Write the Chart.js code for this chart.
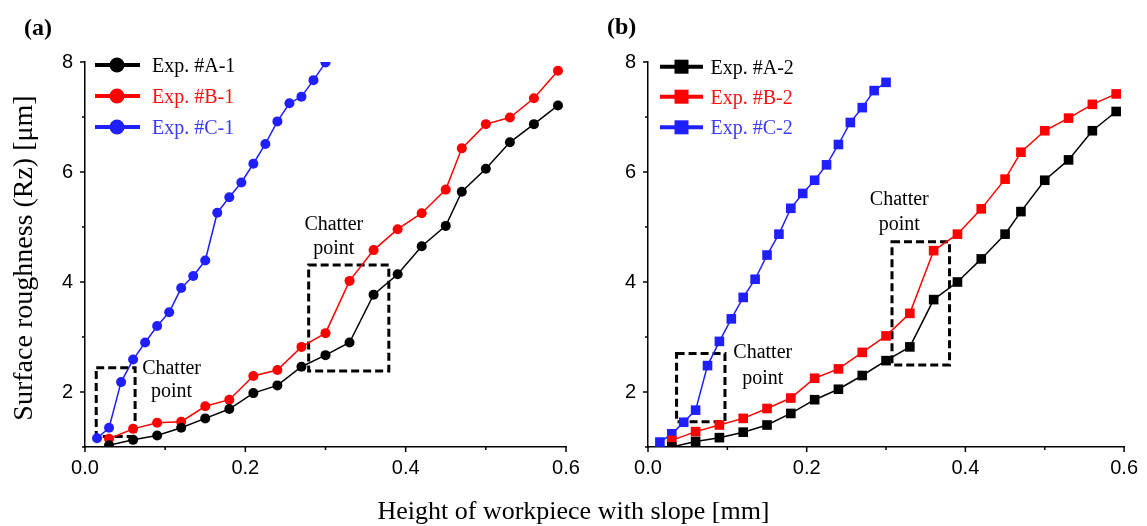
<!DOCTYPE html>
<html><head><meta charset="utf-8">
<script src="https://cdn.jsdelivr.net/npm/chart.js@4/dist/chart.umd.min.js"></script>
<style>
html,body{margin:0;padding:0;background:#fff;}
#wrap{position:relative;width:1147px;height:526px;overflow:hidden;background:#fff;}
.cv{position:absolute;top:0;}
.lbl{position:absolute;font-family:'Liberation Serif','Times New Roman',serif;color:#000;white-space:nowrap;line-height:1;}
</style></head><body>
<div id="wrap">
  <canvas id="ca" class="cv" width="600" height="526" style="left:0"></canvas>
  <canvas id="cb" class="cv" width="567" height="526" style="left:580px"></canvas>
  <div class="lbl" style="left:24px;top:15px;font-size:24px;font-weight:bold">(a)</div>
  <div class="lbl" style="left:607px;top:14px;font-size:24px;font-weight:bold">(b)</div>
  <div class="lbl" style="left:0;width:1147px;text-align:center;top:498px;font-size:26px">Height of workpiece with slope [mm]</div>
  <div class="lbl" style="left:23px;top:258px;font-size:28px;transform:translate(-50%,-50%) rotate(-90deg)">Surface roughness (Rz) [μm]</div>
</div>
<script>
// ---- data ----
const xAB = [0.03,0.06,0.09,0.12,0.15,0.18,0.21,0.24,0.27,0.30,0.33,0.36,0.39,0.42,0.45,0.47,0.50,0.53,0.56,0.59];
const xC  = [0.015,0.03,0.045,0.06,0.075,0.09,0.105,0.12,0.135,0.15,0.165,0.18,0.195,0.21,0.225,0.24,0.255,0.27,0.285,0.30];

const expA1 = [1.03,1.13,1.21,1.35,1.52,1.69,1.98,2.12,2.46,2.67,2.90,3.77,4.14,4.65,5.02,5.64,6.06,6.54,6.87,7.21];
const expB1 = [1.15,1.33,1.44,1.46,1.74,1.86,2.29,2.40,2.82,3.07,4.02,4.58,4.96,5.25,5.68,6.43,6.87,6.99,7.34,7.84];
const expC1 = [1.16,1.35,2.18,2.59,2.90,3.20,3.45,3.89,4.11,4.39,5.26,5.54,5.81,6.15,6.51,6.92,7.25,7.37,7.67,7.99];

const expA2 = [1.00,1.10,1.17,1.27,1.40,1.61,1.86,2.05,2.30,2.57,2.82,3.68,4.00,4.42,4.87,5.28,5.85,6.22,6.75,7.10];
const expB2 = [1.12,1.28,1.40,1.52,1.70,1.89,2.25,2.42,2.72,3.02,3.43,4.57,4.87,5.33,5.87,6.36,6.75,6.98,7.23,7.42];
const expC2 = [1.09,1.24,1.45,1.67,2.48,2.92,3.33,3.72,4.05,4.49,4.87,5.34,5.61,5.85,6.13,6.50,6.90,7.17,7.48,7.63];

const labelsP1 = ['Exp. #A-1','Exp. #B-1','Exp. #C-1'];
const labelsP2 = ['Exp. #A-2','Exp. #B-2','Exp. #C-2'];
const xTickLabels = ['0.0','0.2','0.4','0.6'];
const yTickLabels = ['2','4','6','8'];

// ---- styles ----
const COL = {black:'#000000', red:'#ff0000', blue:'#2020ff'};
const TXT = {black:'#000000', red:'#ff1010', blue:'#3a3aff'};
const SERIF = "'Liberation Serif','Times New Roman',serif";
const SANS = "'Liberation Sans',Arial,sans-serif";

function pts(xs, ys){ return xs.map((x,i)=>({x:x, y:ys[i]})); }
function ds(label, xs, ys, key, style){
  return {
    label: label, data: pts(xs, ys), showLine: true,
    borderColor: COL[key], backgroundColor: COL[key], borderWidth: 1.5,
    pointStyle: style, pointRadius: style === 'rect' ? 6.8 : 5,
    pointBorderWidth: 0, pointBackgroundColor: COL[key], tension: 0,
    txtColor: TXT[key]
  };
}

const deco = {
  id: 'deco',
  beforeDatasetsDraw(chart, args, o){
    const {ctx, scales:{x, y}} = chart;
    ctx.save();
    ctx.setLineDash([8,4]); ctx.lineWidth = 3; ctx.strokeStyle = '#000';
    o.boxes.forEach(b => {
      const x0 = x.getPixelForValue(b[0]), x1 = x.getPixelForValue(b[1]);
      const yt = y.getPixelForValue(b[2]), yb = y.getPixelForValue(b[3]);
      ctx.strokeRect(x0, yt, x1 - x0, yb - yt);
    });
    ctx.restore();
  },
  afterDraw(chart, args, o){
    const {ctx, chartArea: ca, scales:{x, y}} = chart;
    ctx.save();
    ctx.strokeStyle = '#000'; ctx.lineWidth = 1.5; ctx.setLineDash([]);
    y.ticks.forEach(t => {
      const p = y.getPixelForValue(t.value);
      const major = Math.round(t.value) % 2 === 0;
      const len = major ? 5 : 3;
      ctx.beginPath(); ctx.moveTo(ca.left - len, p); ctx.lineTo(ca.left, p); ctx.stroke();
    });
    x.ticks.forEach(t => {
      const p = x.getPixelForValue(t.value);
      const major = Math.round(t.value * 10) % 2 === 0;
      const len = major ? 5 : 3;
      ctx.beginPath(); ctx.moveTo(p, ca.bottom); ctx.lineTo(p, ca.bottom + len); ctx.stroke();
    });
    ctx.fillStyle = '#000';
    ctx.font = '20px ' + SERIF;
    ctx.textAlign = 'center'; ctx.textBaseline = 'middle';
    o.notes.forEach(n => {
      ctx.fillText(n.text, x.getPixelForValue(n.x), y.getPixelForValue(n.y));
    });
    const L = o.legend;
    chart.data.datasets.forEach((d, i) => {
      const ry = ca.top + L.rows[i];
      ctx.strokeStyle = d.borderColor; ctx.lineWidth = 4;
      ctx.beginPath(); ctx.moveTo(ca.left + L.x0, ry); ctx.lineTo(ca.left + L.x1, ry); ctx.stroke();
      ctx.fillStyle = d.borderColor;
      const mx = ca.left + L.mx;
      if (d.pointStyle === 'rect') {
        ctx.fillRect(mx - 7, ry - 7, 14, 14);
      } else {
        ctx.beginPath(); ctx.arc(mx, ry, 7.5, 0, Math.PI * 2); ctx.fill();
      }
      ctx.fillStyle = d.txtColor;
      ctx.font = '20px ' + SERIF;
      ctx.textAlign = 'left'; ctx.textBaseline = 'alphabetic';
      ctx.fillText(d.label, ca.left + L.tx, ry + 7);
    });
    ctx.restore();
  }
};

function makeChart(id, datasets, yWidth, padRight, decoOpts){
  return new Chart(document.getElementById(id), {
    type: 'scatter',
    data: { datasets: datasets },
    options: {
      responsive: false, animation: false, devicePixelRatio: 1,
      layout: { padding: { top: 62, right: padRight, bottom: 0, left: 0 } },
      plugins: { legend: { display: false }, tooltip: { enabled: false }, deco: decoOpts },
      scales: {
        x: {
          type: 'linear', min: 0, max: 0.6,
          afterFit: s => { s.height = 79; },
          grid: { display: true, drawOnChartArea: false, drawTicks: false },
          border: { display: true, color: '#000', width: 1.5 },
          ticks: {
            stepSize: 0.1, padding: 9, color: '#000', font: { family: SANS, size: 20 },
            maxRotation: 0, autoSkip: false,
            callback: v => { const k = Math.round(v * 10); return k % 2 === 0 ? xTickLabels[k / 2] : ''; }
          }
        },
        y: {
          type: 'linear', min: 1, max: 8,
          afterFit: s => { s.width = yWidth; },
          grid: { display: true, drawOnChartArea: false, drawTicks: false },
          border: { display: true, color: '#000', width: 1.5 },
          ticks: {
            stepSize: 1, padding: 12, color: '#000', font: { family: SANS, size: 20 }, autoSkip: false,
            callback: v => { const k = Math.round(v); return k % 2 === 0 ? yTickLabels[k / 2 - 1] : ''; }
          }
        }
      }
    },
    plugins: [deco]
  });
}

makeChart('ca', [
  ds(labelsP1[0], xAB, expA1, 'black', 'circle'),
  ds(labelsP1[1], xAB, expB1, 'red', 'circle'),
  ds(labelsP1[2], xC, expC1, 'blue', 'circle')
], 85, 34, {
  boxes: [[0.014, 0.0625, 2.44, 1.19], [0.279, 0.379, 4.31, 2.38]],
  notes: [
    {text:'Chatter', x:0.108, y:2.43}, {text:'point', x:0.108, y:2.0},
    {text:'Chatter', x:0.3104, y:5.05}, {text:'point', x:0.3104, y:4.6}
  ],
  legend: { x0: 10, x1: 55, mx: 32, tx: 67, rows: [3, 34, 65] }
});

makeChart('cb', [
  ds(labelsP2[0], xAB, expA2, 'black', 'rect'),
  ds(labelsP2[1], xAB, expB2, 'red', 'rect'),
  ds(labelsP2[2], xC, expC2, 'blue', 'rect')
], 68, 20, {
  boxes: [[0.036, 0.097, 2.70, 1.46], [0.3075, 0.380, 4.73, 2.49]],
  notes: [
    {text:'Chatter', x:0.1446, y:2.72}, {text:'point', x:0.1446, y:2.25},
    {text:'Chatter', x:0.3167, y:5.49}, {text:'point', x:0.3167, y:5.04}
  ],
  legend: { x0: 12, x1: 55, mx: 33.5, tx: 62.5, rows: [4.7, 34.7, 65.3] }
});
</script>
</body></html>
